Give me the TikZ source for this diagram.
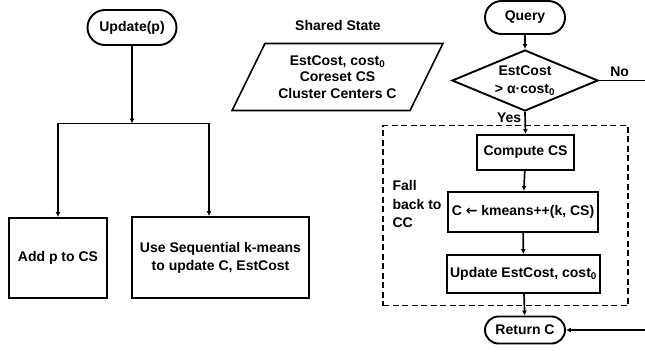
\documentclass[tikz,border=0pt]{standalone}
\usepackage{fontspec}
\setmainfont{Liberation Sans}
\newfontfamily\symfont{DejaVu Sans}
\usepackage{tikz}
\usetikzlibrary{shapes.geometric,shapes.misc,arrows.meta}

\begin{document}
\begin{tikzpicture}[
    x=1pt, y=-1pt,
    font=\bfseries\fontsize{14}{18}\selectfont,
    >={Latex[length=5pt,width=5pt]},
    terminal/.style={rounded rectangle, draw, line width=1.9pt, minimum width=80pt, minimum height=33pt, inner sep=0pt},
    process/.style={rectangle, draw, line width=1.9pt, align=center, inner sep=0pt},
    data/.style={trapezium, trapezium left angle=58, trapezium right angle=122, trapezium stretches=true, draw, line width=1.6pt, align=center, inner sep=0pt, minimum width=211pt, minimum height=67pt, font=\bfseries\fontsize{14}{16.5}\selectfont},
    decision/.style={diamond, aspect=2.4, draw, line width=1.9pt, align=center, inner sep=0pt, minimum width=146pt, minimum height=61pt},
    flow/.style={->, line width=1.7pt}
]
\useasboundingbox (0,0) rectangle (645,354);

% update branch
\node [terminal, minimum width=89pt, minimum height=35pt] (update) at (132,27.5) {Update(p)};
\node [process, minimum width=98pt, minimum height=80pt] (addp) at (58,258) {Add p to CS};
\node [process, minimum width=177pt, minimum height=81pt] (seqk) at (220.5,257.5) {Use Sequential k-means\\to update C, EstCost};
\coordinate (split) at (132,123.5);
\coordinate (splitr) at (209,123.5);

\draw [flow] (update) -- (split);
\draw [flow] (split) -| (addp);
\draw [flow] (split) -- (splitr) -- (splitr |- seqk.north);

% shared state
\node (sharedlbl) at (338,25) {Shared State};
\node [data] (shared) at (337.5,77) {EstCost, cost\textsubscript{0}\\Coreset CS\\Cluster Centers C};

% query branch
\node [terminal, minimum height=33pt] (query) at (525,17.5) {Query};
\node [decision] (check) at (525,80.5) {EstCost\\> α·cost\textsubscript{0}};
\node [draw, dash pattern=on 6pt off 3.5pt, line width=1.3pt, minimum width=245pt, minimum height=180pt] (fallback) at (505.5,215.5) {};
\node [anchor=west, align=left, font=\bfseries\fontsize{14}{18.5}\selectfont] (fallbacklbl) at (389,204) {Fall\\back to\\CC};
\node [process, minimum width=97pt, minimum height=35pt] (compute) at (525.5,152.5) {Compute CS};
\node [process, minimum width=150pt, minimum height=40pt] (kmeans) at (523,212) {C {\symfont\bfseries ←} kmeans++(k, CS)};
\node [process, minimum width=153pt, minimum height=38pt] (upd) at (523.5,274) {Update EstCost, cost\textsubscript{0}};
\node [terminal, minimum height=27pt] (ret) at (525,330) {Return C};
\coordinate (noend) at (645,80.5);
\coordinate (noback) at (645,330);

\draw [flow] (query) -- (check);
\draw [line width=1.7pt] (check.east) -- node[above, pos=0.45] {No} (noend);
\draw [flow] (check.south) -- node[anchor=east, pos=0.25, inner sep=3pt] {Yes} (compute.north);
\draw [flow] (compute) -- (kmeans);
\draw [flow] (kmeans) -- (upd);
\draw [flow] (upd) -- (ret);
\draw [flow] (noback) -- (ret);

\end{tikzpicture}
\end{document}
